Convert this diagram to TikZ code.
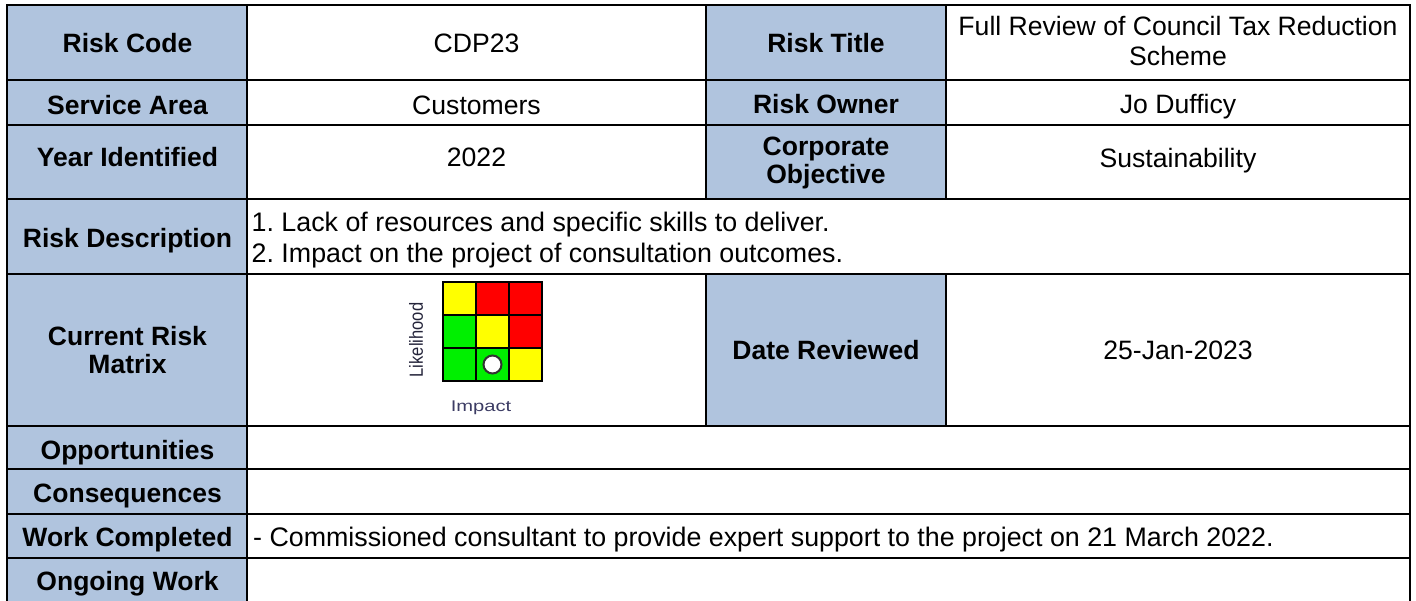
\documentclass[tikz,border=0pt]{standalone}
\usepackage{fontspec}
\setmainfont{Liberation Sans}
\usepackage{graphicx}
\definecolor{hdr}{HTML}{B0C4DE}
\definecolor{mYel}{HTML}{FFFF00}
\definecolor{mRed}{HTML}{FF0000}
\definecolor{mGrn}{HTML}{00F000}
\definecolor{lkcol}{HTML}{24243A}
\definecolor{impcol}{HTML}{3C3C64}
\begin{document}
\frenchspacing
\begin{tikzpicture}[x=1pt,y=-1pt,
  gridline/.style={line width=2.8pt, draw=black},
  lbl/.style={inner sep=0pt, anchor=base, font=\fontsize{26.5}{28.3}\selectfont\bfseries, align=center},
  val/.style={inner sep=0pt, anchor=base, font=\fontsize{26.6}{30}\selectfont, align=center},
  lval/.style={inner sep=0pt, anchor=base west, font=\fontsize{26.8}{30.5}\selectfont, align=left},
  mcell/.style={draw=black, line width=1.3pt},
]
\useasboundingbox (0,0) rectangle (1416,601);
% header fills
\fill[hdr] (7,5) rectangle (247,601);
\fill[hdr] (706,5) rectangle (946,199);
\fill[hdr] (706,274) rectangle (946,426);
% grid
\draw[gridline] (7,601) -- (7,5) -- (1410,5) -- (1410,601);
\draw[gridline] (247,5) -- (247,601);
\foreach \yy in {80,125,199,274,426,469,514,558} \draw[gridline] (7,\yy) -- (1410,\yy);
\draw[gridline] (706,5) -- (706,199) (706,274) -- (706,426);
\draw[gridline] (946,5) -- (946,199) (946,274) -- (946,426);
% row 1
\node[lbl] (rc) at (127.5,52.5) {Risk Code};
\node[val] (rcv) at (476.5,53) {CDP23};
\node[lbl] (rt) at (826,53) {Risk Title};
\node[val] (rtv) at (1178,65.5) {Full Review of Council Tax Reduction\\Scheme};
% row 2
\node[lbl] (sa) at (127.5,114.5) {Service Area};
\node[val] (sav) at (476.5,114.5) {Customers};
\node[lbl] (ro) at (826,114) {Risk Owner};
\node[val] (rov) at (1178,113.5) {Jo Dufficy};
% row 3
\node[lbl] (yi) at (127.5,166.5) {Year Identified};
\node[val] (yiv) at (476.5,166.5) {2022};
\node[lbl] (co) at (826,183.5) {Corporate\\Objective};
\node[val] (cov) at (1178,168) {Sustainability};
% row 4
\node[lbl] (rd) at (127.5,247.5) {Risk Description};
\node[lval] (rdv) at (251.5,262.3) {1. Lack of resources and specific skills to deliver.\\2. Impact on the project of consultation outcomes.};
% row 5
\node[lbl] (crm) at (127.5,373.7) {Current Risk\\Matrix};
\foreach \r/\c/\col in {0/0/mYel,0/1/mRed,0/2/mRed,1/0/mGrn,1/1/mYel,1/2/mRed,2/0/mGrn,2/1/mGrn,2/2/mYel}
  \filldraw[mcell, fill=\col] ({443+33*\c},{282+33*\r}) rectangle +(33,33);
\node[circle, minimum size=18pt, inner sep=0pt, fill=white, draw=black!80, line width=2pt] (dot) at (492.5,364.5) {};
\node[rotate=90, inner sep=0pt, font=\fontsize{19}{19}\selectfont, text=lkcol] (lk) at (416,340) {\scalebox{0.87}[1]{Likelihood}};
\node[anchor=base, inner sep=0pt, font=\fontsize{15.5}{15.5}\selectfont, text=impcol] (imp) at (481,411.7) {\scalebox{1.3}[1]{Impact}};
\node[lbl] (dr) at (826,359.3) {Date Reviewed};
\node[val] (drv) at (1178,359.3) {25-Jan-2023};
% rows 6-9
\node[lbl] (op) at (127.5,459) {Opportunities};
\node[lbl] (cq) at (127.5,502.5) {Consequences};
\node[lbl] (wc) at (127.5,546.5) {Work Completed};
\node[lval] (wcv) at (253,546.5) {- Commissioned consultant to provide expert support to the project on 21 March 2022.};
\node[lbl] (ow) at (127.5,590) {Ongoing Work};
\end{tikzpicture}
\end{document}
